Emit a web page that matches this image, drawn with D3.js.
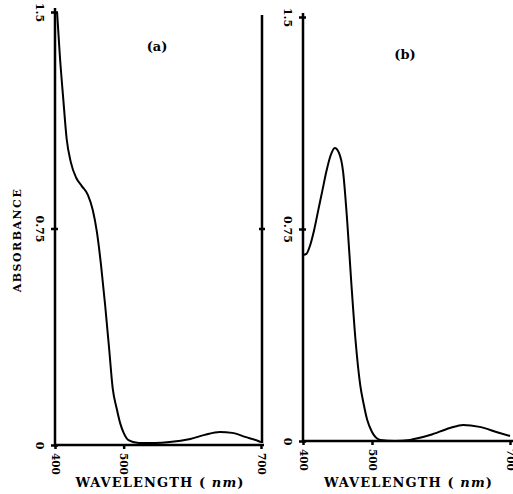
<!DOCTYPE html>
<meta charset="utf-8">
<style>
    body {
        margin: 0;
        background: #fff;
    }
    text {
        font-family: "DejaVu Serif", serif;
        font-weight: bold;
        fill: #000;
    }
    .axis path, .axis line {
        stroke: #000;
        stroke-width: 2.5;
    }
    .curve {
        fill: none;
        stroke: #000;
        stroke-width: 2;
    }
</style>
<svg width="513" height="494"></svg>
<script src="https://d3js.org/d3.v7.min.js"></script>
<script>
    var xTicks = [400, 500, 700];
    var yTicks = [0, 0.75, 1.5];
    var yTickLabels = ["0", "0.75", "1.5"];

    // panel (a)
    var wavelengthA = [403, 407, 412, 417, 423, 431, 439, 448, 455, 461, 467, 473, 479, 484, 490, 495, 500, 507, 522, 546, 567, 597, 618, 640, 658, 677, 696, 700];
    var absorbanceA = [1.50, 1.35, 1.20, 1.06, 0.98, 0.925, 0.897, 0.866, 0.814, 0.738, 0.624, 0.485, 0.329, 0.197, 0.125, 0.075, 0.042, 0.017, 0.007, 0.007, 0.010, 0.021, 0.035, 0.045, 0.042, 0.028, 0.014, 0.010];

    // panel (b)
    var wavelengthB = [400, 405, 410, 416, 422, 428, 434, 440, 446, 452, 458, 464, 470, 476, 483, 488, 493, 500, 512, 533, 555, 584, 613, 632, 656, 685, 700];
    var absorbanceB = [0.658, 0.662, 0.690, 0.745, 0.815, 0.885, 0.955, 1.010, 1.037, 1.020, 0.955, 0.780, 0.560, 0.360, 0.197, 0.130, 0.075, 0.032, 0.004, 0.0, 0.004, 0.021, 0.046, 0.057, 0.050, 0.028, 0.018];

    var svg = d3.select("svg");

    var panels = [
        {wl: wavelengthA, ab: absorbanceA, left: 55, right: 261, bottom: 445, top: 12, label: "(a)", lx: 157, ly: 51, border: 262},
        {wl: wavelengthB, ab: absorbanceB, left: 303, right: 510, bottom: 441, top: 17, label: "(b)", lx: 405, ly: 59, border: null}
    ];

    panels.forEach(function (p) {
        var x = d3.scaleLinear().domain([400, 700]).range([p.left, p.right]);
        var y = d3.scaleLinear().domain([0, 1.5]).range([p.bottom, p.top]);

        // y axis
        var ya = svg.append("g")
            .attr("class", "axis")
            .attr("transform", "translate(" + p.left + ",0)")
            .call(d3.axisLeft(y).tickValues(yTicks).tickSizeInner(4).tickSizeOuter(0)
                .tickFormat(function (d, i) { return yTickLabels[i]; }));
        ya.select(".domain").attr("d", "M0," + (p.bottom + 1) + "V" + (p.top - 4));
        ya.selectAll(".tick line").attr("x1", 3);
        ya.selectAll(".tick text")
            .attr("x", null).attr("dy", "0.35em")
            .attr("text-anchor", "middle")
            .attr("transform", "translate(-15,0) rotate(90)")
            .style("font-size", "11px");

        // x axis
        var xa = svg.append("g")
            .attr("class", "axis")
            .attr("transform", "translate(0," + p.bottom + ")")
            .call(d3.axisBottom(x).tickValues(xTicks).tickSizeInner(4).tickSizeOuter(0));
        xa.select(".domain").attr("d", "M" + (p.left - 1) + ",0H" + (p.right + 3));
        xa.selectAll(".tick text")
            .attr("y", null).attr("dy", "0.35em")
            .attr("text-anchor", "start")
            .attr("transform", "translate(0,8) rotate(90)")
            .style("font-size", "10.5px");

        // right border of panel
        if (p.border) {
            var ra = svg.append("g")
                .attr("class", "axis")
                .attr("transform", "translate(" + p.border + ",0)")
                .call(d3.axisLeft(y).tickValues([0.75]).tickSizeInner(3).tickSizeOuter(0).tickFormat(""));
            ra.select(".domain").attr("d", "M0," + (p.bottom - 2) + "V" + (p.top + 3));
            ra.selectAll(".tick line").attr("x1", 3);
        }

        var line = d3.line()
            .x(function (d, i) { return x(p.wl[i]); })
            .y(function (d) { return y(d); })
            .curve(d3.curveMonotoneX);

        svg.append("path")
            .attr("class", "curve")
            .attr("d", line(p.ab));

        svg.append("text")
            .attr("x", p.lx).attr("y", p.ly)
            .attr("text-anchor", "middle")
            .style("font-size", "13px")
            .text(p.label);

        var t = svg.append("text")
            .attr("x", (p.left + p.right) / 2 + 2).attr("y", 487)
            .attr("text-anchor", "middle")
            .style("font-size", "13px")
            .style("letter-spacing", "1.1px")
            .text("WAVELENGTH ( ");
        t.append("tspan").style("font-style", "italic").text("nm");
        t.append("tspan").text(")");
    });

    svg.append("text")
        .attr("transform", "translate(21,240) rotate(-90)")
        .attr("text-anchor", "middle")
        .style("font-size", "11px")
        .style("letter-spacing", "1.5px")
        .text("ABSORBANCE");
</script>
